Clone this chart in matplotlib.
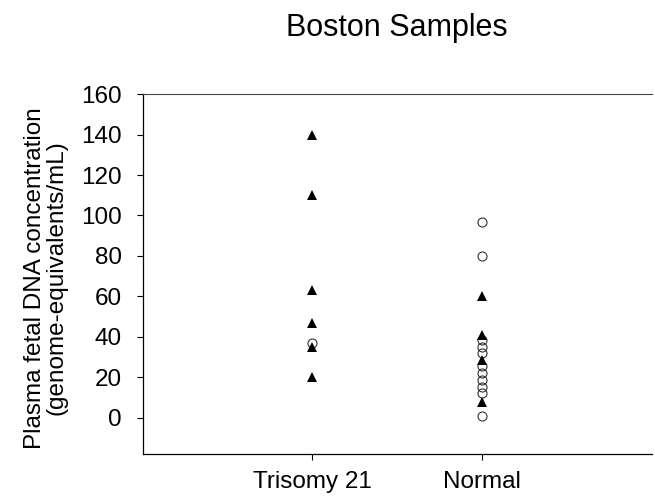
import matplotlib
matplotlib.use("Agg")
import matplotlib.pyplot as plt

plt.rcParams['font.family'] = ['Liberation Sans', 'DejaVu Sans']

# data
groups = ["Trisomy 21", "Normal"]
tri_triangles = [140, 110, 63, 47, 35, 20]
tri_circles = [37]
norm_circles = [97, 80, 38.5, 35, 32, 25.5, 22, 18.5, 15, 12, 0.8]
norm_triangles = [60, 41, 28.5, 8]
yticks = [0, 20, 40, 60, 80, 100, 120, 140, 160]

fig = plt.figure(figsize=(6.55, 4.98), dpi=100)
ax = fig.add_axes([0.218, 0.088, 0.777, 0.723])

# circles first so triangles sit on top
ax.plot([1] * len(tri_circles), tri_circles, 'o', ms=6.5, mfc='none', mec='#333333', mew=0.8)
ax.plot([2] * len(norm_circles), norm_circles, 'o', ms=6.5, mfc='none', mec='#333333', mew=0.8)
ax.plot([1] * len(tri_triangles), tri_triangles, '^', ms=7.5, color='black', mew=0)
ax.plot([2] * len(norm_triangles), norm_triangles, '^', ms=7.5, color='black', mew=0)

ax.set_xlim(0, 3)
ax.set_ylim(-18, 160)
ax.set_xticks([1, 2])
ax.set_xticklabels(groups)
ax.set_yticks(yticks)
ax.tick_params(axis='y', direction='out', length=4, width=0.8, pad=11, labelsize=17.5)
ax.tick_params(axis='x', direction='out', length=4, width=0.8, pad=8, labelsize=17.5)
ax.spines['right'].set_visible(False)
for s in ['left', 'bottom']:
    ax.spines[s].set_linewidth(0.9)
ax.spines['top'].set_linewidth(0.8)
ax.spines['top'].set_color('#444444')

ax.set_ylabel("Plasma fetal DNA concentration\n(genome-equivalents/mL)", fontsize=17.5,
              linespacing=1.0)
ax.yaxis.set_label_coords(-0.147, 0.49)

fig.text(0.606, 1 - 28 / 498, "Boston Samples", ha='center', va='center', fontsize=22)

fig.savefig("out.png", dpi=100)
